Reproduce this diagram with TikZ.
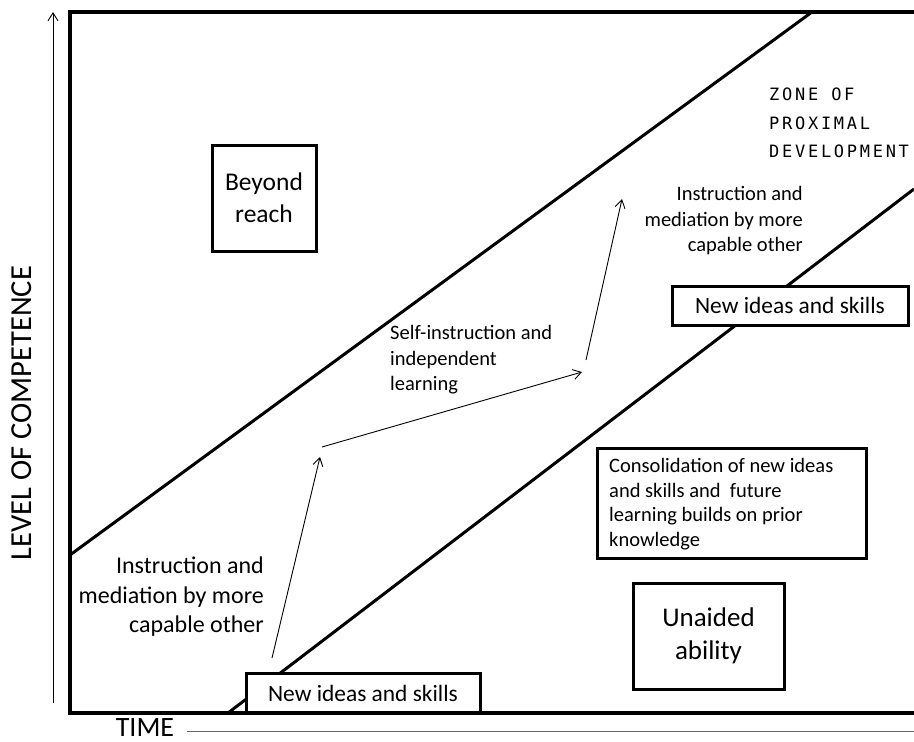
\documentclass[tikz,border=0pt]{standalone}
\usepackage{fontspec}
\setmainfont{Carlito}
\newfontfamily\zonefont[LetterSpace=16]{DejaVu Sans Mono}
\usetikzlibrary{arrows.meta}

\begin{document}
\begin{tikzpicture}[x=1pt,y=-1pt,
  frame/.style={line width=3.5pt},
  zoneline/.style={line width=3pt, line cap=butt},
  boxed/.style={draw, line width=3pt, fill=white, inner sep=0pt, align=center},
  thinarrow/.style={line width=0.9pt, -{Straight Barb[length=8pt,width=10pt]}},
  body/.style={font=\fontsize{20.5}{25.5}\selectfont, inner sep=0pt},
  axislabel/.style={font=\fontsize{30.5}{34}\selectfont, inner sep=0pt}
]
\useasboundingbox (0,0) rectangle (914,742);
\clip (0,0) rectangle (914,742);

% boundaries of the zone of proximal development
\coordinate (upL) at (70,555);
\coordinate (upR) at (812,12);
\coordinate (loL) at (228,713);
\coordinate (loR) at (914,189);
\draw[zoneline] (upL) -- (upR);
\draw[zoneline] (loL) -- (loR);

% axes
\coordinate (yfoot) at (53,703);
\coordinate (ytip) at (53,12);
\draw[thinarrow] (yfoot) -- (ytip);
\node[axislabel, rotate=90] (ylab) at (22,413) {LEVEL OF COMPETENCE};
\node[inner sep=0pt, anchor=base, font=\fontsize{28}{32}\selectfont] (xlab) at (145,736) {TIME};
\coordinate (xstart) at (187,731.5);
\coordinate (xend) at (914,731.5);
\draw[line width=1.6pt, draw=black!60] (xstart) -- (xend);

% boxes
\node[boxed, minimum width=104pt, minimum height=106pt,
      font=\fontsize{25.5}{32}\selectfont] (beyond) at (264,198) {Beyond\\reach};
\node[boxed, minimum width=151pt, minimum height=106pt,
      font=\fontsize{27}{33}\selectfont] (unaided) at (708.5,636) {Unaided\\ability};
\node[boxed, minimum width=269pt, minimum height=110pt] (consol) at (731.5,503) {};
\node[inner sep=0pt, anchor=west, align=left, font=\fontsize{20.5}{24.5}\selectfont] (consoltext) at (609,504)
      {Consolidation of new ideas\\and skills and\ \ future\\learning builds on prior\\knowledge};
\node[boxed, minimum width=236pt, minimum height=39pt,
      font=\fontsize{23.4}{28}\selectfont] (newtop) at (790,305.5) {New ideas and skills};
\node[boxed, minimum width=234pt, minimum height=40pt,
      font=\fontsize{23.4}{28}\selectfont] (newbot) at (363,693) {New ideas and skills};

% frame
\draw[frame] (914,12) -- (70,12) -- (70,713) -- (914,713);

% labels
\node[body, anchor=west, align=left] (selfinst) at (390,360)
      {Self-instruction and\\independent\\learning};
\node[body, anchor=east, align=right] (medtop) at (803,221)
      {Instruction and\\mediation by more\\capable other};
\node[inner sep=0pt, anchor=east, align=right, font=\fontsize{24}{29.5}\selectfont] (medbot) at (264,597)
      {Instruction and\\mediation by more\\capable other};
\node[inner sep=0pt, anchor=west, align=left, font=\zonefont\fontsize{17}{28.5}\selectfont] (zpd) at (769,123)
      {ZONE OF\\PROXIMAL\\DEVELOPMENT};

% learning path
\coordinate (p0) at (272,658);
\coordinate (p1) at (320,457);
\coordinate (p2) at (322,447);
\coordinate (p3) at (582,372);
\coordinate (p4) at (586,360);
\coordinate (p5) at (622,199);
\draw[thinarrow] (p0) -- (p1);
\draw[thinarrow] (p2) -- (p3);
\draw[thinarrow] (p4) -- (p5);
\end{tikzpicture}
\end{document}
